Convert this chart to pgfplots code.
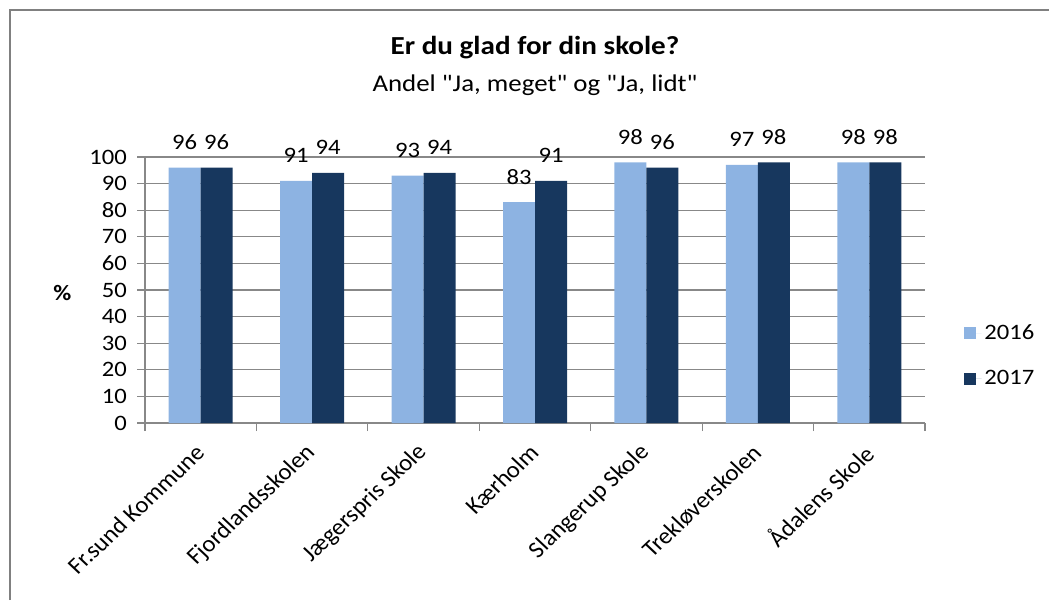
\documentclass[border=0pt]{standalone}
\usepackage{pgfplots}
\pgfplotsset{compat=1.18}
\usepackage{fontspec}
\setmainfont{Carlito}[FakeStretch=1.12]
\newfontfamily\subfont{Carlito}[FakeStretch=1.12, Ligatures=TeXOff]
\newfontfamily\rotfont{Carlito}
\definecolor{light}{HTML}{8DB3E2}
\definecolor{dark}{HTML}{17375E}
\definecolor{gridgray}{HTML}{888888}
\begin{document}
\begin{tikzpicture}
\path[use as bounding box] (0,0) rectangle (786.75pt,450pt);
\draw[gray, line width=1.5pt] (7.5pt,0) -- (7.5pt,442.5pt) -- (786.75pt,442.5pt);
\node[font=\fontsize{19.5}{23}\selectfont\bfseries] at (401.25pt,414pt) {Er du glad for din skole?};
\node[font=\fontsize{18}{22}\selectfont\subfont] at (401.25pt,386.25pt) {Andel "Ja, meget" og "Ja, lidt"};
\begin{axis}[
  at={(108.75pt,132.75pt)}, anchor=south west,
  scale only axis, width=585pt, height=199.5pt,
  ybar=0pt, bar width=24pt,
  xmin=-0.5, xmax=6.5, ymin=0, ymax=100,
  axis x line*=bottom, axis y line*=left,
  axis line style={gridgray, line width=0.8pt},
  ytick={0,10,...,100},
  ymajorgrids, grid style={gridgray, line width=0.8pt},
  major tick length=6pt, tick align=outside,
  tick style={gridgray, line width=0.8pt},
  xtick={-0.5,0.5,1.5,2.5,3.5,4.5,5.5,6.5},
  xticklabels={},
  extra x ticks={0,1,2,3,4,5,6},
  extra x tick labels={Fr.sund Kommune,Fjordlandsskolen,Jægerspris Skole,Kærholm,Slangerup Skole,Trekløverskolen,Ådalens Skole},
  extra x tick style={major tick length=0pt, grid=none,
     xticklabel style={anchor=east, xshift=2pt, yshift=-17pt, xscale=1.06, rotate=45, font=\fontsize{17.5}{20}\selectfont\rotfont}},
  /pgf/number format/assume math mode=true,
  ticklabel style={font=\fontsize{16.5}{19}\selectfont},
  yticklabel style={xshift=-4pt},
  nodes near coords,
  nodes near coords style={font=\fontsize{16.5}{19}\selectfont, anchor=south, yshift=10pt},
  legend style={draw=none, fill=none, at={(1.045,0.39)}, anchor=north west,
     font=\fontsize{16.5}{19}\selectfont, row sep=17.5pt},
  legend cell align=left,
  legend image code/.code={\fill[#1] (0pt,-4.5pt) rectangle (9pt,4.5pt); \path (0pt,0pt) -- (13pt,0pt);},
  clip=false,
]
\addplot[fill=light, draw=none] coordinates {(0,96) (1,91) (2,93) (3,83) (4,98) (5,97) (6,98)};
\addplot[fill=dark, draw=none] coordinates {(0,96) (1,94) (2,94) (3,91) (4,96) (5,98) (6,98)};
\legend{2016,2017}
\node[font=\fontsize{16.5}{19}\selectfont\bfseries] at (rel axis cs:-0.106,0.49) {\%};
\end{axis}
\end{tikzpicture}
\end{document}
